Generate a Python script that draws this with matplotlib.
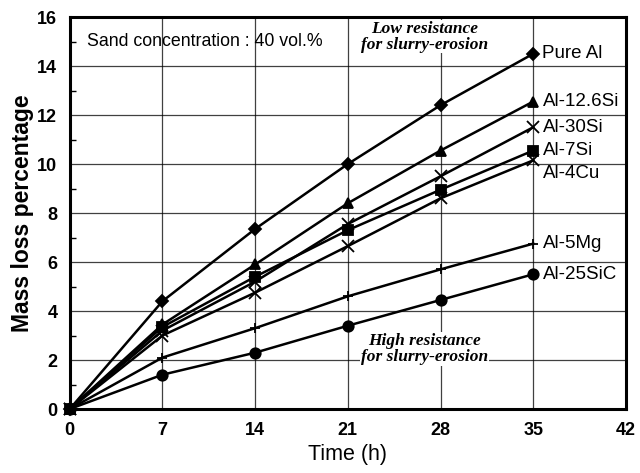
import matplotlib
matplotlib.use('Agg')
import matplotlib.pyplot as plt
from matplotlib.ticker import MultipleLocator

# erosion test times (h)
time = [0, 7, 14, 21, 28, 35]

# mass loss (%) for each alloy
pure_al = [0, 4.4, 7.35, 10.0, 12.4, 14.5]
al_126si = [0, 3.45, 5.9, 8.4, 10.55, 12.55]
al_30si = [0, 3.2, 5.2, 7.55, 9.5, 11.5]
al_7si = [0, 3.35, 5.4, 7.3, 8.95, 10.55]
al_4cu = [0, 3.0, 4.75, 6.65, 8.6, 10.15]
al_5mg = [0, 2.1, 3.3, 4.6, 5.7, 6.75]
al_25sic = [0, 1.4, 2.3, 3.4, 4.45, 5.5]

names = ['Pure Al', 'Al-12.6Si', 'Al-30Si', 'Al-7Si', 'Al-4Cu', 'Al-5Mg', 'Al-25SiC']
series = [pure_al, al_126si, al_30si, al_7si, al_4cu, al_5mg, al_25sic]
markers = ['D', '^', 'x', 's', 'x', '+', 'o']
msizes = [6.5, 7.5, 8, 6.5, 8, 7, 7.5]
# small vertical nudges so end labels don't collide
label_dy = [0, 0, 0, 0, -0.55, 0, 0]

sans = ['Liberation Sans', 'DejaVu Sans']
narrow = ['Liberation Sans Narrow', 'Liberation Sans', 'DejaVu Sans']
serif = ['Liberation Serif', 'DejaVu Serif']

fig = plt.figure(figsize=(6.4, 4.73), dpi=100)
ax = fig.add_axes([0.109, 0.1353, 0.869, 0.8287])

for vals, m, ms in zip(series, markers, msizes):
    ax.plot(time, vals, color='black', lw=1.8, marker=m, ms=ms,
            mew=1.3, mfc='black', mec='black', clip_on=False, zorder=3)

for name, vals, dy in zip(names, series, label_dy):
    ax.text(time[-1] + 0.7, vals[-1] + dy, name, fontsize=13.5,
            family=sans, va='center', ha='left')

ax.text(1.3, 15.0, 'Sand concentration : 40 vol.%', fontsize=12.8,
        family=sans, va='center')
ax.text(26.8, 15.2, 'Low resistance\nfor slurry-erosion', fontsize=12.5,
        family=serif, style='italic', weight='bold', ha='center',
        va='center', linespacing=1.0,
        bbox=dict(facecolor='white', edgecolor='none', pad=0.5))
ax.text(26.8, 2.45, 'High resistance\nfor slurry-erosion', fontsize=12.5,
        family=serif, style='italic', weight='bold', ha='center',
        va='center', linespacing=1.0,
        bbox=dict(facecolor='white', edgecolor='none', pad=0.5))

ax.set_xlim(0, 42)
ax.set_ylim(0, 16)
ax.xaxis.set_major_locator(MultipleLocator(7))
ax.yaxis.set_major_locator(MultipleLocator(2))
ax.yaxis.set_minor_locator(MultipleLocator(1))
ax.grid(True, which='major', color='black', lw=0.9, alpha=0.75)
ax.set_axisbelow(True)

ax.tick_params(which='major', length=0, pad=9, labelsize=13)
ax.tick_params(which='minor', length=4, direction='in', width=1)
for lab in ax.get_xticklabels() + ax.get_yticklabels():
    lab.set_family(narrow)
    lab.set_fontweight('bold')

for sp in ax.spines.values():
    sp.set_linewidth(2.2)

ax.set_xlabel('Time (h)', fontsize=15.5, family=narrow, labelpad=4)
ax.set_ylabel('Mass loss percentage', fontsize=16.5, family=sans,
              weight='bold', labelpad=2)

fig.savefig('out.png', dpi=100)
